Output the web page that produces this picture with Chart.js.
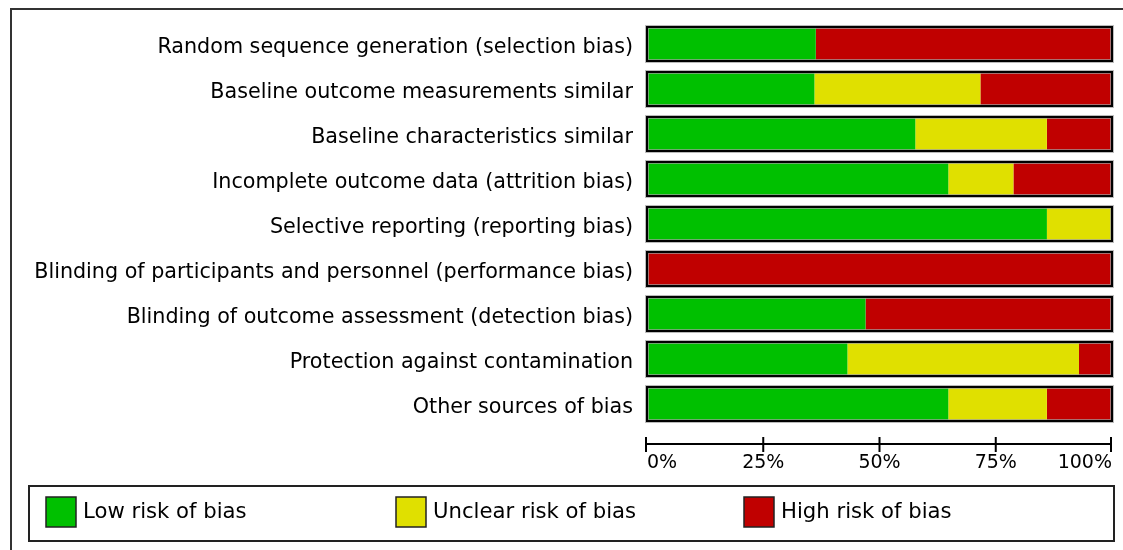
<!DOCTYPE html>
<html>
<head>
<meta charset="utf-8">
<script src="https://cdn.jsdelivr.net/npm/chart.js@4.4.1/dist/chart.umd.min.js"></script>
<style>
  html, body { margin: 0; padding: 0; background: #fff; }
  #wrap { width: 1123px; height: 550px; position: relative; }
</style>
</head>
<body>
<div id="wrap"><canvas id="c" width="1123" height="550"></canvas></div>
<script>
const categories = [
  "Random sequence generation (selection bias)",
  "Baseline outcome measurements similar",
  "Baseline characteristics similar",
  "Incomplete outcome data (attrition bias)",
  "Selective reporting (reporting bias)",
  "Blinding of participants and personnel (performance bias)",
  "Blinding of outcome assessment (detection bias)",
  "Protection against contamination",
  "Other sources of bias"
];
const lowRisk     = [36.3, 36.0, 57.7, 64.8, 86.0, 0,   47.0, 43.1, 64.8];
const unclearRisk = [0,    35.7, 28.3, 14.0, 14.0, 0,   0,    49.8, 21.2];
const highRisk    = [63.7, 28.3, 14.0, 21.2, 0,    100, 53.0, 7.1,  14.0];
const xTicks = [0, 25, 50, 75, 100];
const seriesNames = ["Low risk of bias", "Unclear risk of bias", "High risk of bias"];
const seriesColors = ["#00c000", "#e0e000", "#c00000"];

const FONT = "'DejaVu Sans', Verdana, sans-serif";

const frameAndAxisPlugin = {
  id: 'frameAndAxis',
  beforeDraw(chart) {
    const ctx = chart.ctx;
    ctx.save();
    ctx.fillStyle = '#fff';
    ctx.fillRect(0, 0, chart.width, chart.height);
    ctx.strokeStyle = '#333';
    ctx.lineWidth = 2;
    ctx.strokeRect(11, 9, 1400, 800);
    ctx.restore();
  },
  afterDatasetsDraw(chart) {
    const ctx = chart.ctx;
    const xs = chart.scales.x, ys = chart.scales.y;
    const meta = chart.getDatasetMeta(0);
    const x0 = xs.getPixelForValue(0), x1 = xs.getPixelForValue(100);
    ctx.save();
    meta.data.forEach((bar, i) => {
      const yc = ys.getPixelForValue(i);
      const h = bar.height;
      ctx.strokeStyle = 'rgba(160,160,160,0.7)';
      ctx.lineWidth = 4;
      ctx.strokeRect(x0, yc - h / 2, x1 - x0, h);
      ctx.strokeStyle = '#000';
      ctx.lineWidth = 2;
      ctx.strokeRect(x0, yc - h / 2, x1 - x0, h);
    });
    // x axis line and ticks
    const ay = chart.chartArea.bottom + 17.5;
    ctx.strokeStyle = '#000';
    ctx.lineWidth = 2;
    ctx.beginPath();
    ctx.moveTo(xs.getPixelForValue(0) - 1, ay);
    ctx.lineTo(xs.getPixelForValue(100), ay);
    xTicks.forEach(t => {
      const px = Math.min(xs.getPixelForValue(t), xs.getPixelForValue(100) - 1) - (t === 0 ? 1 : 0);
      ctx.moveTo(px, ay - 7);
      ctx.lineTo(px, ay + 8);
    });
    ctx.stroke();
    ctx.restore();
  },
  afterDraw(chart) {
    const ctx = chart.ctx;
    ctx.save();
    ctx.strokeStyle = '#222';
    ctx.lineWidth = 2;
    ctx.strokeRect(29, 486, 1085, 55);
    const xs = [46, 396, 744];
    ctx.font = "21.2px " + FONT;
    ctx.textBaseline = 'middle';
    ctx.textAlign = 'left';
    chart.data.datasets.forEach((ds, i) => {
      ctx.fillStyle = ds.backgroundColor;
      ctx.fillRect(xs[i], 497, 30, 30);
      ctx.strokeStyle = '#222';
      ctx.lineWidth = 1.5;
      ctx.strokeRect(xs[i], 497, 30, 30);
      ctx.fillStyle = '#000';
      ctx.fillText(ds.label, xs[i] + 37, 512.5);
    });
    ctx.restore();
  }
};

new Chart(document.getElementById('c'), {
  type: 'bar',
  data: {
    labels: categories,
    datasets: [
      { label: seriesNames[0], data: lowRisk, backgroundColor: seriesColors[0] },
      { label: seriesNames[1], data: unclearRisk, backgroundColor: seriesColors[1] },
      { label: seriesNames[2], data: highRisk, backgroundColor: seriesColors[2] }
    ]
  },
  options: {
    indexAxis: 'y',
    responsive: false,
    animation: false,
    events: [],
    layout: { padding: { left: 0, right: 11, top: 21.5, bottom: 73.5 } },
    datasets: { bar: { barPercentage: 0.756, categoryPercentage: 1, borderWidth: 0 } },
    plugins: { legend: { display: false }, tooltip: { enabled: false } },
    scales: {
      x: {
        stacked: true, min: 0, max: 100,
        grid: { display: false, drawTicks: false },
        border: { display: false },
        afterBuildTicks(scale) { scale.ticks = xTicks.map(v => ({ value: v })); },
        afterFit(scale) { scale.height = 50; scale.paddingLeft = 0; scale.paddingRight = 0; },
        ticks: {
          align: 'inner', padding: 25.5, color: '#000', maxRotation: 0, autoSkip: false,
          font: { family: FONT, size: 19 },
          callback: v => v + '%'
        }
      },
      y: {
        stacked: true,
        grid: { display: false, drawTicks: false },
        border: { display: false },
        afterFit(scale) { scale.width = 647; scale.paddingTop = 0; scale.paddingBottom = 0; },
        ticks: { padding: 14, labelOffset: 4, color: '#000', autoSkip: false, font: { family: FONT, size: 20.7 } }
      }
    }
  },
  plugins: [frameAndAxisPlugin]
});
</script>
</body>
</html>
